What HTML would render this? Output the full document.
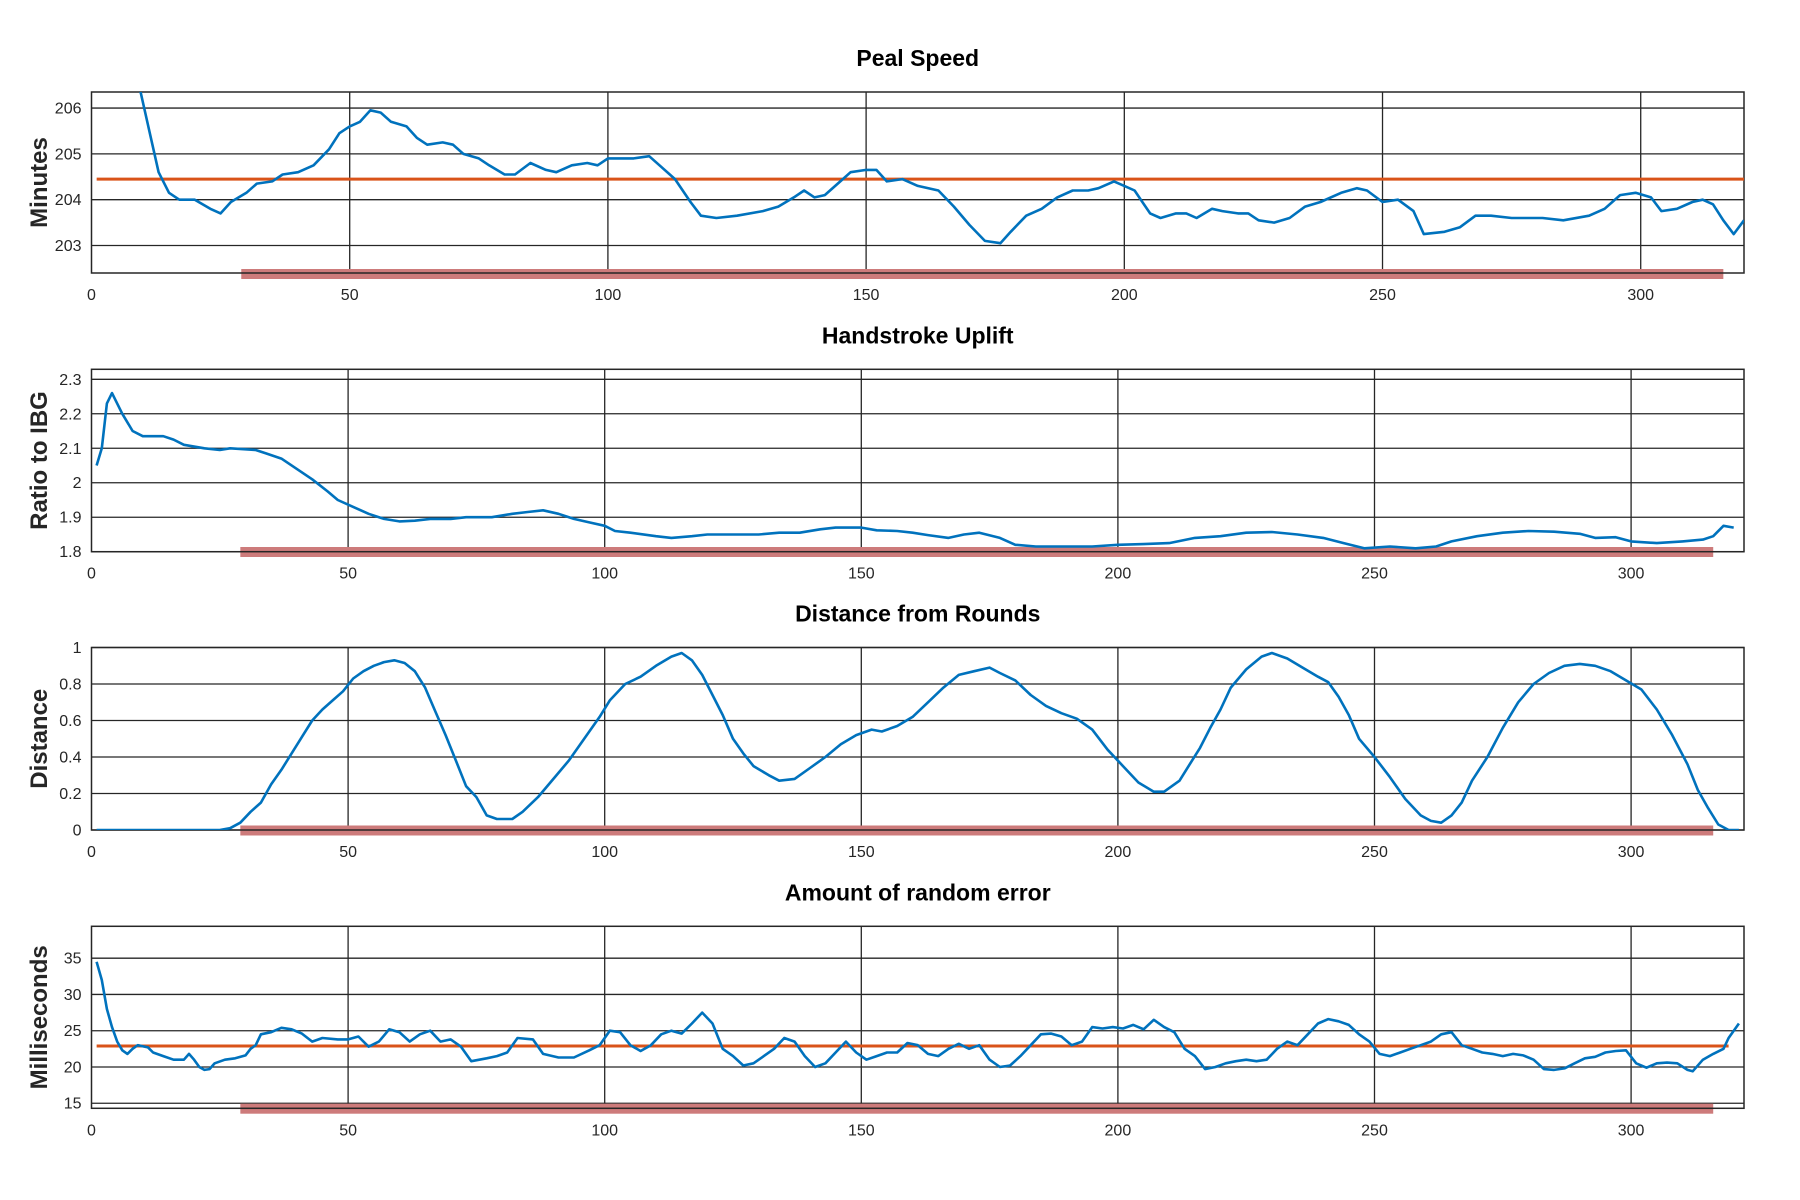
<!DOCTYPE html>
<html><head><meta charset="utf-8"><style>
body{margin:0;background:#fff;}
svg{display:block;font-family:"Liberation Sans",sans-serif;}
</style></head><body>
<svg id="fig" width="1800" height="1200" viewBox="0 0 1800 1200" xmlns="http://www.w3.org/2000/svg"></svg>
<script>
// Panel 1: Peal Speed
const p1X=[9,11,13,15,17,20,23,25,27,30,32,35,37,40,43,46,48,50,52,54,56,58,61,63,65,68,70,72,75,77,80,82,85,88,90,93,96,98,100,105,108,110,113,116,118,121,125,130,133,136,138,140,142,145,147,150,152,154,157,160,164,167,170,173,176,178,181,184,187,190,193,195,198,200,202,205,207,210,212,214,217,219,222,224,226,229,232,235,238,242,245,247,250,253,256,258,262,265,268,271,275,278,281,285,290,293,296,299,302,304,307,310,312,314,316,318,320];
const p1Y=[206.6,205.6,204.6,204.15,204.0,204.0,203.8,203.7,203.95,204.15,204.35,204.4,204.55,204.6,204.75,205.1,205.45,205.6,205.7,205.95,205.9,205.7,205.6,205.35,205.2,205.25,205.2,205.0,204.9,204.75,204.55,204.55,204.8,204.65,204.6,204.75,204.8,204.75,204.9,204.9,204.95,204.75,204.45,203.95,203.65,203.6,203.65,203.75,203.85,204.05,204.2,204.05,204.1,204.4,204.6,204.65,204.65,204.4,204.45,204.3,204.2,203.85,203.45,203.1,203.05,203.3,203.65,203.8,204.05,204.2,204.2,204.25,204.4,204.3,204.2,203.7,203.6,203.7,203.7,203.6,203.8,203.75,203.7,203.7,203.55,203.5,203.6,203.85,203.95,204.15,204.25,204.2,203.95,204.0,203.75,203.25,203.3,203.4,203.65,203.65,203.6,203.6,203.6,203.55,203.65,203.8,204.1,204.15,204.05,203.75,203.8,203.95,204.0,203.9,203.55,203.25,203.55];
const p1Ticks=[203,204,205,206];
const p1Mean=204.45;
// Panel 2: Handstroke Uplift
const p2X=[1,2,3,4,6,8,10,14,16,18,22,25,27,32,34,37,40,43,46,48,51,54,57,60,63,66,70,73,78,82,85,88,91,94,97,100,102,105,110,113,117,120,125,130,134,138,142,145,150,153,157,160,163,167,170,173,177,180,184,190,195,200,205,210,215,220,225,230,235,240,244,248,253,258,262,265,270,275,280,285,290,293,297,300,305,310,314,316,318,320];
const p2Y=[2.05,2.1,2.23,2.26,2.2,2.15,2.135,2.135,2.125,2.11,2.1,2.095,2.1,2.095,2.085,2.07,2.04,2.01,1.975,1.95,1.93,1.91,1.895,1.888,1.89,1.895,1.895,1.9,1.9,1.91,1.915,1.92,1.91,1.895,1.885,1.875,1.86,1.855,1.845,1.84,1.845,1.85,1.85,1.85,1.855,1.855,1.865,1.87,1.87,1.862,1.86,1.855,1.848,1.84,1.85,1.855,1.84,1.82,1.815,1.815,1.815,1.82,1.822,1.825,1.84,1.845,1.855,1.857,1.85,1.84,1.825,1.81,1.815,1.81,1.815,1.83,1.845,1.855,1.86,1.858,1.852,1.84,1.842,1.83,1.825,1.83,1.835,1.845,1.875,1.87];
const p2Ticks=[1.8,1.9,2,2.1,2.2,2.3];
const p2TickLabels=["1.8","1.9","2","2.1","2.2","2.3"];
// Panel 3: Distance from Rounds
const p3X=[1,10,20,25,27,29,31,33,35,37,39,41,43,45,47,49,51,53,55,57,59,61,63,65,67,69,71,73,75,77,79,82,84,87,90,93,96,99,101,104,107,110,113,115,117,119,121,123,125,127,129,132,134,137,140,143,146,149,152,154,157,160,163,166,169,172,175,177,180,183,186,189,192,195,198,201,204,207,209,212,214,216,218,220,222,225,228,230,233,236,239,241,243,245,247,250,253,256,259,261,263,265,267,269,272,275,278,281,284,287,290,293,296,299,302,305,308,311,313,315,317,319,321];
const p3Y=[0,0,0,0,0.01,0.04,0.1,0.15,0.25,0.33,0.42,0.51,0.6,0.66,0.71,0.76,0.83,0.87,0.9,0.92,0.93,0.915,0.87,0.78,0.65,0.52,0.38,0.24,0.18,0.08,0.06,0.06,0.1,0.18,0.28,0.38,0.5,0.62,0.71,0.8,0.84,0.9,0.95,0.97,0.93,0.85,0.74,0.63,0.5,0.42,0.35,0.3,0.27,0.28,0.34,0.4,0.47,0.52,0.55,0.54,0.57,0.62,0.7,0.78,0.85,0.87,0.89,0.86,0.82,0.74,0.68,0.64,0.61,0.55,0.44,0.35,0.26,0.21,0.21,0.27,0.36,0.45,0.56,0.66,0.78,0.88,0.95,0.97,0.94,0.89,0.84,0.81,0.73,0.63,0.5,0.4,0.29,0.17,0.08,0.05,0.04,0.08,0.15,0.27,0.4,0.56,0.7,0.8,0.86,0.9,0.91,0.9,0.87,0.82,0.77,0.66,0.52,0.36,0.22,0.12,0.03,0,0];
const p3Ticks=[0,0.2,0.4,0.6,0.8,1];
const p3TickLabels=["0","0.2","0.4","0.6","0.8","1"];
// Panel 4: Amount of random error
const p4X=[1,2,3,4,5,6,7,8,9,11,12,14,16,18,19,20,21,22,23,24,26,28,30,31,32,33,35,37,39,41,43,45,48,50,52,54,56,58,60,62,64,66,68,70,72,74,77,79,81,83,86,88,91,94,97,99,101,103,105,107,109,111,113,115,117,119,121,123,125,127,129,131,133,135,137,139,141,143,145,147,149,151,153,155,157,159,161,163,165,167,169,171,173,175,177,179,181,183,185,187,189,191,193,195,197,199,201,203,205,207,209,211,213,215,217,219,221,223,225,227,229,231,233,235,237,239,241,243,245,247,249,251,253,255,257,259,261,263,265,267,269,271,273,275,277,279,281,283,285,287,289,291,293,295,297,299,301,303,305,307,309,311,312,314,316,318,319,321];
const p4Y=[34.5,32,28,25.5,23.5,22.3,21.8,22.5,23,22.7,22,21.5,21,21,21.8,21,20,19.6,19.7,20.5,21,21.2,21.6,22.5,23,24.5,24.8,25.4,25.2,24.6,23.5,24,23.8,23.8,24.2,22.8,23.5,25.2,24.8,23.5,24.5,25,23.5,23.8,22.8,20.8,21.2,21.5,22,24,23.8,21.8,21.3,21.3,22.3,23,25,24.8,23,22.2,23,24.5,25,24.6,26,27.5,26,22.5,21.5,20.2,20.5,21.5,22.5,24,23.5,21.5,20,20.5,22,23.5,22,21,21.5,22,22,23.3,23,21.8,21.5,22.5,23.2,22.5,23,21,20,20.2,21.5,23,24.5,24.6,24.2,23,23.5,25.5,25.3,25.5,25.3,25.8,25.2,26.5,25.5,24.8,22.5,21.5,19.7,20,20.5,20.8,21,20.8,21,22.5,23.5,23,24.5,26,26.6,26.3,25.8,24.5,23.5,21.8,21.5,22,22.5,23,23.5,24.5,24.8,23,22.5,22,21.8,21.5,21.8,21.6,21,19.7,19.6,19.8,20.5,21.2,21.4,22,22.2,22.3,20.5,19.9,20.5,20.6,20.5,19.6,19.4,21,21.8,22.5,24,26];
const p4Ticks=[15,20,25,30,35];
const p4Mean=22.9;
const xTicks=[0,50,100,150,200,250,300];
const xTickLabels=["0","50","100","150","200","250","300"];

const NS="http://www.w3.org/2000/svg";
const svg=document.getElementById('fig');
function mk(tag,attrs,parent){const e=document.createElementNS(NS,tag);for(const k in attrs)e.setAttribute(k,attrs[k]);(parent||svg).appendChild(e);return e;}
const L=91.5,R=1744;
const panels=[
 {key:'peal-speed',title:'Peal Speed',ylabel:'Minutes',top:92,bot:273,ymin:202.4,ymax:206.35,xmax:320,xs:p1X,ys:p1Y,ticks:p1Ticks,tl:p1Ticks.map(String),mean:p1Mean,meanX:[1,320],barY:[269,279]},
 {key:'handstroke-uplift',title:'Handstroke Uplift',ylabel:'Ratio to IBG',top:369.3,bot:551.7,ymin:1.8,ymax:2.329,xmax:322,xs:p2X,ys:p2Y,ticks:p2Ticks,tl:p2TickLabels,mean:null,barY:[547,557]},
 {key:'distance-from-rounds',title:'Distance from Rounds',ylabel:'Distance',top:647.5,bot:830,ymin:0,ymax:1,xmax:322,xs:p3X,ys:p3Y,ticks:p3Ticks,tl:p3TickLabels,mean:null,barY:[825.5,835.5]},
 {key:'random-error',title:'Amount of random error',ylabel:'Milliseconds',top:926.3,bot:1108.3,ymin:14.3,ymax:39.4,xmax:322,xs:p4X,ys:p4Y,ticks:p4Ticks,tl:p4Ticks.map(String),mean:p4Mean,meanX:[1,319],barY:[1103.7,1113.7]}
];
panels.forEach(p=>{
  const g=mk('g',{});
  
  
  const sx=v=>L+(v/p.xmax)*(R-L);
  const sy=v=>p.bot-(v-p.ymin)/(p.ymax-p.ymin)*(p.bot-p.top);
  const t=mk('text',{x:(L+R)/2,y:p.top-26,'text-anchor':'middle','font-size':'23','font-weight':'bold',fill:'#000'},g);
  t.textContent=p.title;
  
  
  const yl=mk('text',{x:0,y:0,transform:`translate(47,${(p.top+p.bot)/2}) rotate(-90)`,'text-anchor':'middle','font-size':'24','font-weight':'bold',fill:'#262626'},g);
  yl.textContent=p.ylabel;
  
  
  // grid
  p.ticks.forEach((v,i)=>{
    const y=sy(v);
    const ln=mk('line',{x1:L,x2:R,y1:y,y2:y,stroke:'#262626','stroke-width':'1.3'},g);
    
    
    const tx=mk('text',{x:L-10,y:y+5.5,'text-anchor':'end','font-size':'16',fill:'#262626'},g);
    tx.textContent=p.tl[i];
    
    
  });
  xTicks.forEach((v,i)=>{
    const x=sx(v);
    if(v>0){
      const ln=mk('line',{x1:x,x2:x,y1:p.top,y2:p.bot,stroke:'#262626','stroke-width':'1.3'},g);
      
      
    }
    const tx=mk('text',{x:x,y:p.bot+27,'text-anchor':'middle','font-size':'16',fill:'#262626'},g);
    tx.textContent=xTickLabels[i];
    
    
  });
  const cid='clip-'+p.key;
  const cp=mk('clipPath',{id:cid},g);
  mk('rect',{x:L,y:p.top,width:R-L,height:p.bot-p.top},cp);
  // red bar
  const bar=mk('rect',{x:sx(29),y:p.barY[0],width:sx(316)-sx(29),height:p.barY[1]-p.barY[0],fill:'#cd7b7b'},g);
  
  
  // frame
  const fr=mk('rect',{x:L,y:p.top,width:R-L,height:p.bot-p.top,fill:'none',stroke:'#262626','stroke-width':'1.5'},g);
  
  
  if(p.mean!==null){
    const m=mk('line',{x1:sx(p.meanX[0]),x2:sx(p.meanX[1]),y1:sy(p.mean),y2:sy(p.mean),stroke:'#D95319','stroke-width':'3'},g);
    
    
  }
  const d=p.xs.map((x,i)=>(i?'L':'M')+sx(x).toFixed(1)+','+sy(p.ys[i]).toFixed(1)).join(' ');
  const path=mk('path',{d:d,fill:'none',stroke:'#0072BD','stroke-width':'2.6','stroke-linejoin':'round','clip-path':`url(#${cid})`},g);
  
  
});
</script>
</body></html>
